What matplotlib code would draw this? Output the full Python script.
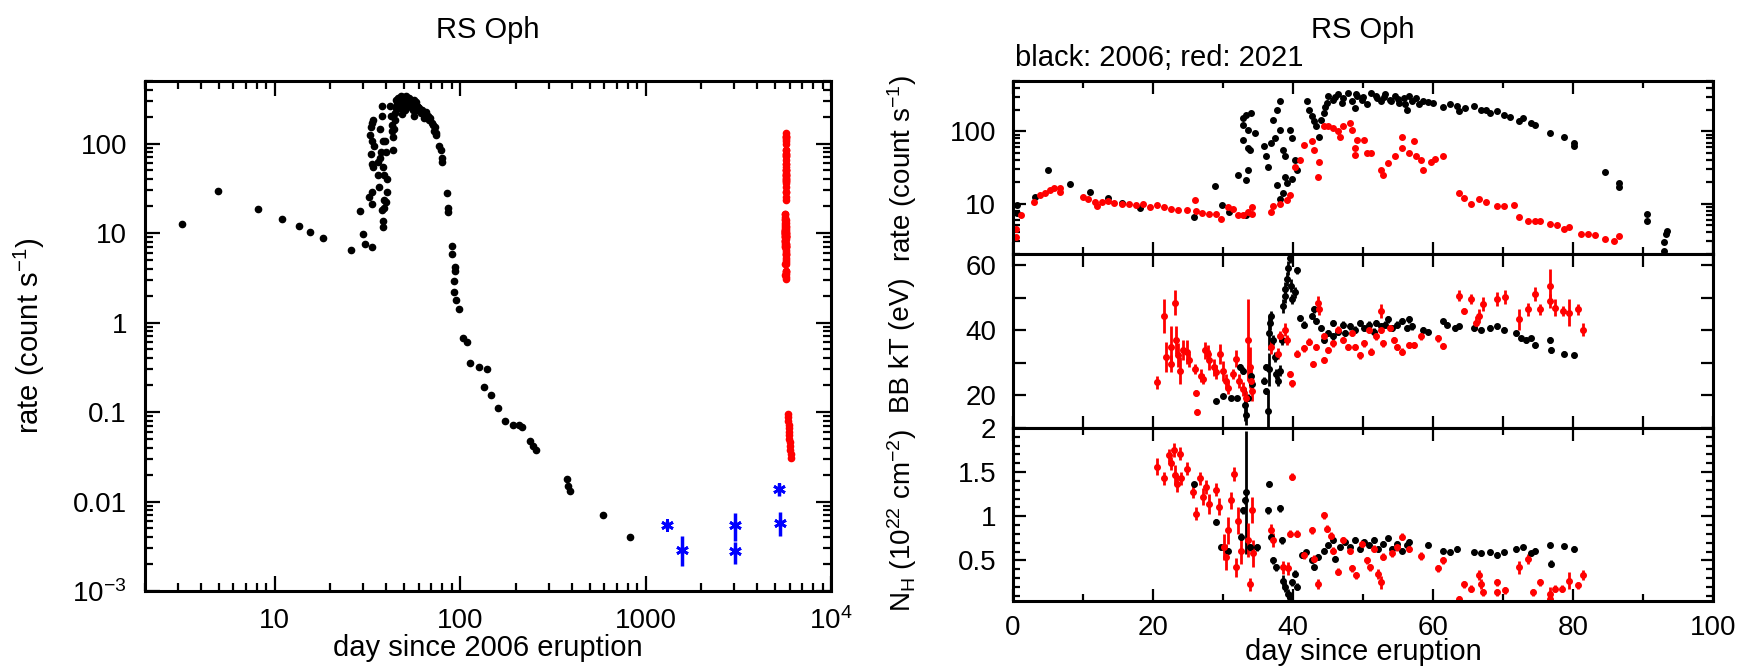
"""RS Oph: 2006 vs 2021 Swift XRT light curve and blackbody fit parameters."""
import numpy as np
import matplotlib; matplotlib.use("Agg")
import matplotlib.pyplot as plt
from matplotlib.ticker import LogLocator, MultipleLocator, NullFormatter

plt.rcParams['font.family'] = ['Liberation Sans', 'DejaVu Sans']
plt.rcParams['mathtext.fontset'] = 'custom'
plt.rcParams['mathtext.rm'] = 'Liberation Sans'
plt.rcParams['mathtext.it'] = 'Liberation Sans:italic'
plt.rcParams['mathtext.default'] = 'regular'

DAY_2021 = 5656  # 2006 Feb 12 -> 2021 Aug 8

# --- 2006 count rate (day since 2006 eruption, count/s)
rate06 = np.array([
    [0.5, 9.5], [0.5, 7.5], [3.16, 12.5], [4.98, 29.3], [8.1, 18.8], [11.0, 14.5], [13.6, 12.0], [15.6, 10.3],
    [18.2, 8.7], [25.9, 6.5], [28.8, 17.7], [29.9, 9.7], [30.9, 7.6], [32.2, 25.0], [33.3, 21.0], [33.3, 7.0],
    [32.8, 124], [32.9, 154], [32.9, 77], [33.3, 171], [33.5, 106], [33.5, 59], [33.6, 29], [33.8, 55], [34.0, 181],
    [34.5, 95], [35.9, 62], [36.2, 45], [36.4, 32.5], [36.9, 69], [37.2, 146], [37.4, 81], [37.7, 201], [37.7, 18],
    [38.1, 263], [38.2, 106], [38.2, 11.7], [38.6, 55], [38.6, 13.8], [38.8, 23.5], [38.9, 45], [39.1, 19],
    [39.6, 106], [39.9, 81], [39.9, 22], [40.3, 40], [40.6, 29], [42.0, 263], [42.3, 201], [42.7, 162], [43.0, 138],
    [43.3, 118], [43.7, 85], [44.0, 146], [44.4, 181], [44.5, 220], [44.9, 249], [45.0, 308], [45.7, 277], [46.0, 300],
    [46.4, 326], [47.0, 250], [47.1, 291], [47.8, 344], [48.4, 263], [48.8, 212], [49.0, 330], [49.1, 308], [49.8, 277],
    [50.0, 300], [50.5, 237], [51.2, 344], [51.8, 308], [52.0, 290], [52.5, 263], [53.0, 300], [53.2, 326], [53.9, 277],
    [54.0, 260], [54.6, 308], [55.0, 280], [55.2, 249], [55.9, 291], [56.0, 240], [56.3, 201], [56.6, 308], [57.0, 263],
    [57.5, 290], [58.0, 240], [58.6, 263], [59.3, 258], [60.0, 250], [61.4, 217], [62.4, 237], [63.4, 225], [63.7, 191],
    [64.5, 210], [65.8, 225], [66.8, 201], [67.5, 200], [68.2, 181], [69.2, 191], [70.2, 171], [71.0, 160], [72.3, 138],
    [72.9, 154], [74.0, 131], [74.6, 124], [76.7, 95], [78.7, 85], [80.1, 69], [80.1, 62], [84.5, 27.7], [86.5, 19.0],
    [86.5, 17.1], [90.5, 7.2], [90.5, 5.8], [93.0, 2.9], [93.3, 3.8], [93.4, 4.2], [93.0, 2.2], [95.5, 1.8],
    [98.8, 1.43], [104, 0.68], [109, 0.61], [113, 0.35], [126, 0.32], [135, 0.19], [140, 0.30], [147, 0.154],
    [161, 0.111], [175, 0.080], [193, 0.072], [207, 0.071], [217, 0.068], [238, 0.048], [247, 0.042], [256, 0.038],
    [378, 0.0178], [384, 0.0150], [393, 0.0131], [593, 0.0070], [828, 0.0040]])

# --- 2021 count rate (day since 2021 eruption, count/s)
rate21 = np.array([
    [0.48, 3.4], [0.48, 4.5], [1.16, 6.9], [3.0, 10.5], [3.88, 13.1], [4.56, 14.1], [5.24, 15.3], [5.92, 16.2],
    [6.74, 16.2], [6.74, 14.5], [10.0, 12.4], [10.7, 11.7], [11.7, 10.5], [12.05, 9.3], [12.7, 10.5], [13.6, 10.8],
    [14.4, 10.2], [15.6, 10.0], [16.5, 10.0], [17.5, 9.7], [18.5, 10.0], [19.5, 9.0], [20.5, 9.5], [21.6, 9.0],
    [22.6, 8.3], [23.6, 8.1], [24.8, 8.1], [26.0, 11.1], [26.1, 7.9], [27.0, 7.5], [28.0, 7.2], [29.05, 7.1],
    [29.7, 6.2], [30.75, 9.0], [31.4, 8.5], [32.1, 6.9], [32.8, 6.9], [33.5, 7.6], [34.15, 9.0], [34.15, 7.2],
    [36.9, 7.6], [37.2, 9.3], [38.2, 10.0], [39.1, 11.1], [39.6, 13.1], [40.3, 32.5], [40.96, 40], [41.6, 65],
    [42.7, 73], [43.0, 55], [43.7, 38], [43.5, 23.5], [44.4, 118], [45.0, 120], [45.7, 111], [46.4, 100], [46.7, 85],
    [47.1, 118], [48.1, 131], [48.4, 106], [48.8, 59], [49.1, 77], [48.8, 47], [50.1, 77], [50.5, 50], [51.2, 50],
    [52.5, 29], [52.9, 25], [53.5, 36], [54.6, 45], [55.6, 85], [55.6, 59], [56.6, 50], [57.3, 73], [57.6, 45],
    [58.3, 40], [58.6, 29], [59.7, 38], [60.3, 42], [61.4, 45], [63.7, 14.1], [64.4, 12.0], [65.4, 10.0],
    [66.5, 11.7], [67.5, 10.5], [69.2, 9.3], [70.2, 9.3], [71.6, 9.7], [72.25, 6.5], [73.6, 5.8], [74.6, 5.8],
    [75.3, 5.7], [76.7, 5.25], [77.7, 5.0], [78.7, 4.5], [79.4, 4.7], [81.1, 3.8], [82.1, 3.8], [83.1, 3.7],
    [84.5, 3.24], [85.9, 3.07], [86.5, 3.5]])

# late 2021 monitoring (day since 2021 eruption, count/s)
late21 = np.array([[200, 0.095], [214, 0.088], [229, 0.080], [244, 0.072], [259, 0.066], [274, 0.060],
                   [294, 0.055], [314, 0.050], [334, 0.046], [354, 0.042], [374, 0.038], [404, 0.034], [434, 0.031]])

# quiescent observations between eruptions (day, rate, low, high)
quies_day = [1310, 1580, 3050, 3050, 5270, 5290]
quies_rate = [0.0054, 0.0029, 0.0054, 0.0028, 0.0138, 0.0058]
quies_lo = [0.0049, 0.0019, 0.0036, 0.0020, 0.0115, 0.0041]
quies_hi = [0.0060, 0.0041, 0.0074, 0.0035, 0.0163, 0.0077]

# --- blackbody kT (eV): day, kT, error
kT06 = np.array([
    [29.05, 18.2, 0.5], [30.0, 19.8, 0.5], [31.1, 19.3, 0.5], [32.0, 19.3, 0.5], [32.4, 28.7, 1.0], [32.8, 27.6, 1.0],
    [33.1, 17.2, 5.2], [33.3, 14.0, 3.1], [33.5, 19.3, 1.0], [34.0, 26.1, 1.0], [34.15, 23.4, 1.0], [35.9, 24.5, 1.0],
    [36.1, 28.7, 1.0], [36.2, 21.4, 1.0], [36.4, 15.1, 6.3], [36.5, 28.0, 5.0], [36.5, 39.1, 5.2], [36.7, 42.2, 2.1],
    [36.9, 44.3, 1.6], [37.2, 37.0, 1.6], [37.4, 31.8, 1.6], [37.6, 26.6, 1.6], [37.9, 24.5, 1.6], [38.2, 27.6, 1.6],
    [38.4, 37.0, 1.6], [38.6, 47.5, 2.1], [38.8, 50.6, 2.1], [38.9, 52.7, 2.1], [39.1, 55.8, 2.1], [39.3, 59.0, 2.1],
    [39.6, 62.1, 1.6], [39.7, 53.7, 2.1], [39.9, 49.6, 1.6], [40.3, 51.6, 1.6], [40.6, 58.4, 1.0], [41.0, 43.8, 1.0],
    [41.6, 41.7, 1.0], [42.7, 44.3, 1.0], [43.0, 46.4, 1.0], [43.3, 42.8, 1.0], [44.0, 40.7, 1.0], [44.4, 37.0, 1.0],
    [45.0, 39.1, 1.0], [45.7, 42.2, 1.0], [45.7, 38.1, 1.0], [46.4, 39.6, 1.0], [47.1, 41.7, 1.0], [47.4, 39.1, 1.0],
    [48.1, 41.2, 1.0], [48.8, 40.2, 1.0], [49.5, 42.2, 1.0], [50.1, 40.7, 1.0], [50.8, 41.7, 1.0], [51.5, 39.6, 1.0],
    [51.8, 42.2, 1.0], [52.5, 41.2, 1.0], [53.2, 41.7, 1.0], [53.5, 43.3, 1.0], [54.2, 40.7, 1.0], [54.9, 41.7, 1.0],
    [55.6, 42.8, 1.0], [56.3, 40.7, 1.0], [56.6, 43.3, 1.0], [57.0, 41.2, 1.0], [58.6, 40.2, 0.8], [59.3, 39.6, 0.8],
    [61.4, 42.8, 0.8], [62.0, 41.7, 0.8], [63.1, 40.7, 0.8], [63.7, 41.2, 0.8], [65.8, 40.7, 0.8], [66.8, 40.2, 0.8],
    [68.2, 40.7, 0.8], [69.2, 41.2, 0.8], [70.2, 40.2, 0.8], [71.9, 39.1, 0.8], [72.6, 37.5, 0.8], [73.3, 37.0, 0.8],
    [74.0, 37.5, 0.8], [74.6, 35.5, 0.8], [76.7, 37.0, 0.8], [76.9, 33.9, 1.0], [78.7, 32.8, 0.8], [80.1, 32.3, 0.8]])

kT21 = np.array([
    [20.55, 24.0, 2.1], [21.6, 44.3, 5.2], [21.8, 31.8, 4.7], [22.5, 34.9, 6.3], [22.6, 29.7, 2.6], [23.1, 48.5, 3.7],
    [23.3, 37.0, 4.2], [23.6, 32.3, 3.7], [23.8, 27.6, 4.2], [24.3, 33.9, 3.1], [24.9, 33.4, 3.7], [25.2, 30.8, 2.1],
    [26.0, 28.1, 1.6], [26.1, 20.8, 1.0], [26.3, 14.9, 1.0], [26.8, 26.1, 2.1], [27.2, 25.0, 1.6], [27.4, 33.9, 2.6],
    [27.9, 32.8, 2.6], [28.0, 30.8, 3.1], [28.7, 28.7, 2.6], [29.05, 27.1, 2.1], [29.5, 32.8, 3.1], [30.0, 27.6, 3.1],
    [30.4, 24.5, 2.1], [30.75, 22.4, 2.1], [31.4, 26.6, 1.6], [31.9, 31.3, 2.6], [32.3, 24.5, 2.1], [32.8, 21.9, 2.1],
    [33.3, 19.3, 2.1], [33.5, 37.0, 12.5], [33.8, 28.7, 6.3], [34.0, 24.5, 4.2], [34.15, 21.4, 3.1], [36.9, 34.9, 2.1],
    [37.9, 32.8, 1.6], [38.2, 38.1, 1.6], [38.9, 40.2, 2.1], [39.2, 37.0, 1.6], [39.6, 26.6, 1.0], [39.9, 23.7, 1.0],
    [40.6, 32.8, 1.0], [41.6, 34.4, 1.0], [42.3, 36.5, 1.0], [42.8, 29.7, 1.0], [43.3, 34.9, 1.0], [43.5, 48.5, 2.1],
    [43.7, 46.4, 1.6], [44.4, 38.1, 1.0], [44.4, 30.8, 1.0], [45.0, 33.9, 1.0], [45.7, 36.0, 1.0], [46.4, 40.2, 1.0],
    [47.1, 37.0, 1.0], [47.8, 34.9, 1.0], [48.4, 39.1, 1.0], [48.8, 34.9, 1.0], [49.5, 32.3, 1.0], [50.1, 36.0, 1.0],
    [50.8, 40.2, 1.0], [51.2, 33.4, 1.0], [51.8, 38.1, 1.0], [52.5, 45.9, 2.1], [52.5, 40.2, 1.0], [52.9, 36.0, 1.0],
    [53.9, 40.7, 1.0], [54.4, 37.0, 1.0], [54.9, 34.9, 1.0], [55.6, 33.4, 1.0], [56.5, 35.5, 1.0], [57.3, 35.5, 1.0],
    [58.3, 38.1, 1.0], [60.7, 37.5, 1.0], [61.4, 35.1, 1.0], [63.7, 50.6, 1.6], [64.4, 45.9, 1.0], [65.4, 49.6, 1.6],
    [66.1, 42.2, 2.1], [66.5, 44.3, 2.1], [67.1, 48.0, 2.1], [69.2, 49.6, 2.1], [70.3, 50.1, 2.1], [72.25, 43.3, 3.1],
    [73.6, 46.4, 2.1], [74.6, 51.1, 2.1], [75.3, 46.4, 1.6], [76.7, 53.7, 5.2], [76.7, 49.0, 2.1], [77.4, 46.9, 2.6],
    [78.5, 45.9, 1.6], [79.4, 45.4, 4.2], [80.7, 46.4, 1.6], [81.4, 40.2, 2.1]])

# --- absorbing column N_H (1e22 cm^-2): day, NH, error
nh06 = np.array([
    [25.9, 1.36, 0.03], [29.05, 0.94, 0.03], [29.7, 0.65, 0.03], [30.75, 0.61, 0.03], [32.5, 0.77, 0.04],
    [32.8, 1.07, 0.04], [33.1, 1.18, 0.04], [33.3, 1.27, 0.70], [33.8, 0.65, 0.04], [34.8, 0.65, 0.04],
    [36.4, 1.07, 0.04], [36.6, 1.37, 0.03], [36.9, 0.77, 0.04], [37.2, 0.50, 0.04], [37.6, 0.42, 0.04],
    [38.2, 1.09, 0.04], [38.4, 0.73, 0.04], [38.6, 0.27, 0.06], [38.9, 0.20, 0.06], [39.3, 0.12, 0.06],
    [39.6, 0.08, 0.06], [39.9, 0.25, 0.04], [40.3, 0.35, 0.04], [40.6, 0.20, 0.04], [41.3, 0.56, 0.03],
    [41.9, 0.59, 0.03], [42.7, 0.50, 0.03], [43.0, 0.42, 0.03], [43.5, 0.54, 0.03], [44.4, 0.61, 0.03],
    [45.0, 0.67, 0.03], [45.7, 0.73, 0.03], [46.0, 0.52, 0.03], [46.7, 0.65, 0.03], [47.4, 0.71, 0.03],
    [48.1, 0.65, 0.03], [48.8, 0.73, 0.03], [49.5, 0.63, 0.03], [50.1, 0.71, 0.03], [50.8, 0.67, 0.03],
    [51.5, 0.73, 0.03], [52.2, 0.63, 0.03], [52.9, 0.69, 0.03], [53.5, 0.75, 0.03], [54.2, 0.63, 0.03],
    [54.9, 0.69, 0.03], [55.6, 0.61, 0.03], [56.3, 0.67, 0.03], [56.6, 0.71, 0.03], [59.3, 0.68, 0.03],
    [61.4, 0.61, 0.03], [62.4, 0.59, 0.03], [63.4, 0.63, 0.03], [65.8, 0.59, 0.03], [66.8, 0.58, 0.03],
    [68.2, 0.59, 0.03], [69.2, 0.56, 0.03], [70.2, 0.59, 0.03], [71.9, 0.63, 0.03], [72.9, 0.65, 0.03],
    [74.0, 0.58, 0.03], [74.6, 0.61, 0.03], [76.7, 0.67, 0.03], [76.9, 0.46, 0.04], [78.7, 0.66, 0.03],
    [80.1, 0.63, 0.03]])

nh21 = np.array([
    [20.55, 1.56, 0.095], [21.6, 1.43, 0.076], [22.3, 1.69, 0.076], [22.6, 1.60, 0.076], [23.0, 1.75, 0.076],
    [23.1, 1.47, 0.11], [23.4, 1.37, 0.095], [23.8, 1.71, 0.076], [24.0, 1.43, 0.076], [24.8, 1.54, 0.076],
    [25.7, 1.28, 0.076], [26.1, 1.03, 0.076], [26.7, 1.43, 0.076], [27.2, 1.22, 0.095], [27.5, 1.33, 0.076],
    [28.0, 1.14, 0.11], [29.05, 1.30, 0.076], [29.4, 1.11, 0.095], [30.1, 0.65, 0.15], [30.4, 0.54, 0.15],
    [30.75, 0.84, 0.15], [31.1, 1.18, 0.095], [31.6, 1.48, 0.076], [31.8, 0.42, 0.11], [32.1, 0.95, 0.15],
    [32.5, 0.61, 0.15], [33.5, 0.73, 0.19], [33.8, 0.23, 0.076], [34.15, 1.07, 0.15], [34.3, 0.58, 0.15],
    [36.9, 0.84, 0.076], [37.2, 0.73, 0.076], [38.6, 0.42, 0.076], [39.3, 0.41, 0.076], [39.6, 0.80, 0.04],
    [39.9, 1.45, 0.04], [40.6, 0.80, 0.04], [41.6, 0.56, 0.04], [42.7, 0.84, 0.04], [43.0, 0.52, 0.04],
    [43.5, 0.23, 0.057], [44.4, 1.01, 0.04], [44.9, 0.86, 0.04], [45.4, 0.78, 0.04], [45.7, 0.61, 0.04],
    [46.4, 0.37, 0.04], [47.1, 0.73, 0.04], [48.1, 0.61, 0.04], [48.4, 0.41, 0.04], [49.0, 0.33, 0.04],
    [49.8, 0.69, 0.04], [50.5, 0.50, 0.04], [51.0, 0.42, 0.04], [51.5, 0.63, 0.04], [52.2, 0.35, 0.057],
    [52.5, 0.25, 0.076], [52.9, 0.54, 0.04], [54.2, 0.58, 0.04], [54.9, 0.65, 0.04], [55.6, 0.77, 0.04],
    [56.6, 0.63, 0.04], [58.3, 0.55, 0.04], [60.7, 0.41, 0.04], [61.4, 0.50, 0.04], [63.7, 0.06, 0.04],
    [64.4, 0.23, 0.04], [65.4, 0.18, 0.04], [66.5, 0.33, 0.057], [66.8, 0.23, 0.057], [67.1, 0.14, 0.04],
    [69.2, 0.25, 0.04], [69.2, 0.14, 0.04], [70.3, 0.16, 0.04], [72.25, 0.42, 0.076], [73.6, 0.52, 0.057],
    [74.3, 0.14, 0.04], [75.3, 0.25, 0.04], [76.7, 0.12, 0.076], [76.7, 0.06, 0.04], [77.4, 0.18, 0.04],
    [78.4, 0.18, 0.04], [79.4, 0.27, 0.095], [80.7, 0.22, 0.04], [81.4, 0.33, 0.057]])

FS = 20     # tick labels, stacked y labels
FL = 21     # axis labels / titles
W, H = 1748, 671
RED, BLUE = '#ff0000', '#0000ff'


def box(x0, y0, x1, y1):
    return [x0/W, 1 - y1/H, (x1 - x0)/W, (y1 - y0)/H]


def frame(ax, big, small):
    ax.tick_params(which='both', direction='in', top=True, right=True, width=1.6, labelsize=FS)
    ax.tick_params(which='major', length=big); ax.tick_params(which='minor', length=small)
    for s in ax.spines.values():
        s.set_linewidth(2.2)


fig = plt.figure(figsize=(W/100, H/100), dpi=100)

# ---------------- left: full light curve on log axes
axL = fig.add_axes(box(145, 81, 831, 591))
axL.set_xscale('log'); axL.set_yscale('log')
axL.plot(rate06[:, 0], rate06[:, 1], 'o', color='k', ms=4.5)
axL.plot(DAY_2021 + rate21[:, 0], rate21[:, 1], 'o', color=RED, ms=4.5)
axL.plot(DAY_2021 + late21[:, 0], late21[:, 1], 'o', color=RED, ms=4.5)
qr = np.array(quies_rate)
axL.errorbar(quies_day, qr, yerr=[qr - np.array(quies_lo), np.array(quies_hi) - qr], fmt='none',
             ecolor=BLUE, elinewidth=2.5, capsize=0)
axL.plot(quies_day, qr, ls='none', marker=(6, 2, 0), color=BLUE, ms=9, mew=2)
axL.set_xlim(2, 1e4); axL.set_ylim(1e-3, 500)
axL.set_xticks([10, 100, 1000, 1e4], ['10', '100', '1000', '$10^4$'])
axL.set_yticks([1e-3, 1e-2, 0.1, 1, 10, 100], ['$10^{-3}$', '0.01', '0.1', '1', '10', '100'])
for a in (axL.xaxis, axL.yaxis):
    a.set_minor_locator(LogLocator(base=10, subs=np.arange(2, 10), numticks=20))
    a.set_minor_formatter(NullFormatter())
frame(axL, 11, 6)
axL.tick_params(axis='y', pad=13); axL.tick_params(axis='x', pad=12)
fig.text(488/W, 1 - 30/H, 'RS Oph', ha='center', va='center', fontsize=FL)
fig.text(488/W, 1 - 648/H, 'day since 2006 eruption', ha='center', va='center', fontsize=FL)
fig.text(29/W, 1 - 336/H, 'rate (count s$^{-1}$)', ha='center', va='center', rotation=90, fontsize=FL)

# ---------------- right: first 100 days, three stacked panels
ax1 = fig.add_axes(box(1013, 81, 1713, 254))
ax2 = fig.add_axes(box(1013, 254, 1713, 428))
ax3 = fig.add_axes(box(1013, 428, 1713, 601))

ax1.set_yscale('log')
ax1.plot(rate06[:, 0], rate06[:, 1], 'o', color='k', ms=4)
ax1.plot(rate21[:, 0], rate21[:, 1], 'o', color=RED, ms=4)
ax1.set_ylim(2, 500)
ax1.set_yticks([10, 100], ['10', '100'])
ax1.yaxis.set_minor_locator(LogLocator(base=10, subs=np.arange(2, 10), numticks=20))
ax1.yaxis.set_minor_formatter(NullFormatter())

for d, c in ((kT06, 'k'), (kT21, RED)):
    ax2.errorbar(d[:, 0], d[:, 1], yerr=d[:, 2], fmt='o', color=c, ms=4, elinewidth=2, capsize=0)
ax2.set_ylim(10, 63.4)
ax2.set_yticks([20, 30, 40, 50, 60], ['20', '', '40', '', '60'])

for d, c in ((nh06, 'k'), (nh21, RED)):
    ax3.errorbar(d[:, 0], d[:, 1], yerr=d[:, 2], fmt='o', color=c, ms=4, elinewidth=2, capsize=0)
ax3.set_ylim(0.04, 2)
ax3.set_yticks([0.5, 1, 1.5, 2], ['0.5', '1', '1.5', '2'])
ax3.yaxis.set_minor_locator(MultipleLocator(0.1))

for ax in (ax1, ax2, ax3):
    ax.set_xlim(0, 100)
    ax.xaxis.set_major_locator(MultipleLocator(20)); ax.xaxis.set_minor_locator(MultipleLocator(10))
    frame(ax, 9, 5)
    ax.tick_params(axis='y', pad=12); ax.tick_params(axis='x', pad=10)
ax1.tick_params(labelbottom=False); ax2.tick_params(labelbottom=False)
ax2.tick_params(axis='x', which='both', length=9)

fig.text(1363/W, 1 - 30/H, 'RS Oph', ha='center', va='center', fontsize=FL)
fig.text(1015/W, 1 - 66/H, 'black: 2006; red: 2021', ha='left', va='baseline', fontsize=FL)
fig.text(1363/W, 1 - 652/H, 'day since eruption', ha='center', va='center', fontsize=FL)
fig.text(902/W, 1 - 168/H, 'rate (count s$^{-1}$)', ha='center', va='center', rotation=90, fontsize=FS)
fig.text(902/W, 1 - 345/H, 'BB kT (eV)', ha='center', va='center', rotation=90, fontsize=FS)
fig.text(902/W, 1 - 520/H, 'N$_H$ (10$^{22}$ cm$^{-2}$)', ha='center', va='center', rotation=90, fontsize=FS)

fig.savefig('out.png', dpi=100)
